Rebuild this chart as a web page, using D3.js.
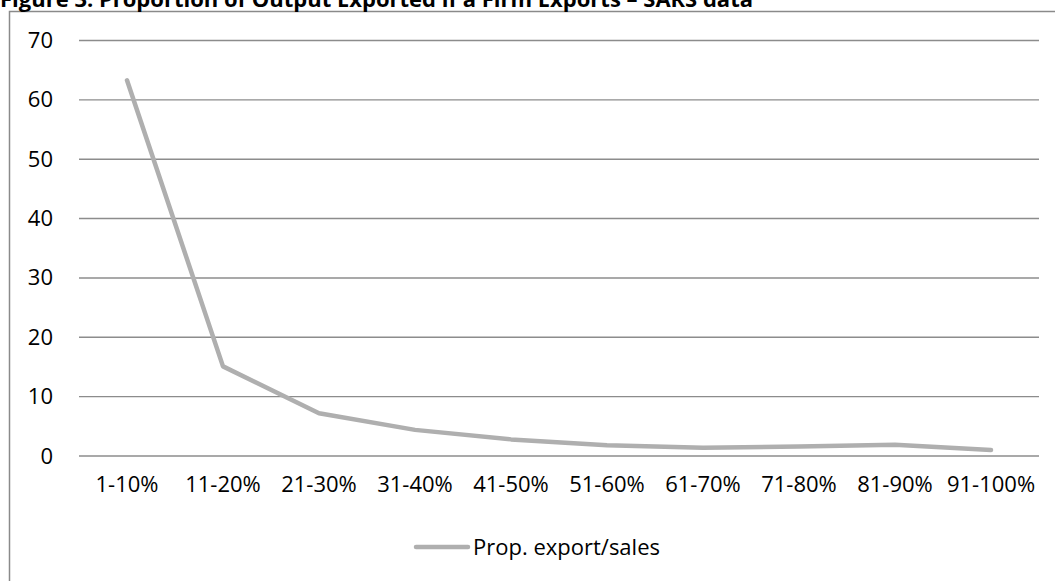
<!DOCTYPE html>
<html>
<head>
<meta charset="utf-8">
<script src="https://cdn.jsdelivr.net/npm/d3@7"></script>
<style>
  html, body { margin: 0; padding: 0; background: #fff; }
  svg { display: block; }
  text { font-family: "Open Sans", sans-serif; fill: #000; }
</style>
</head>
<body>
<svg id="chart" width="1055" height="581"></svg>
<script>
// Share of output exported, by export-intensity band
const categories = ["1-10%", "11-20%", "21-30%", "31-40%", "41-50%", "51-60%", "61-70%", "71-80%", "81-90%", "91-100%"];
const values = [63.3, 15.1, 7.2, 4.4, 2.8, 1.8, 1.4, 1.6, 1.9, 1.0];
const yTicks = [0, 10, 20, 30, 40, 50, 60, 70];
const seriesName = "Prop. export/sales";
const title = "Figure 3: Proportion of Output Exported if a Firm Exports \u2013 SARS data";

const svg = d3.select("#chart");

// chart area frame
svg.append("rect")
  .attr("x", 9.5).attr("y", 11.5)
  .attr("width", 1060).attr("height", 600)
  .attr("fill", "#fff")
  .attr("stroke", "#8a8a8a")
  .attr("stroke-width", 1.5);

// title, partly above the page edge
svg.append("text")
  .attr("x", 0).attr("y", 6.5)
  .attr("font-weight", "bold")
  .attr("font-size", 22)
  .text(title);

const x = d3.scaleBand().domain(categories).range([79, 1039]).padding(0);
const y = d3.scaleLinear().domain([0, 70]).range([456, 40.5]);

// horizontal gridlines
svg.append("g")
  .selectAll("line")
  .data(yTicks)
  .join("line")
  .attr("x1", 79).attr("x2", 1039)
  .attr("y1", d => y(d)).attr("y2", d => y(d))
  .attr("stroke", "#8c8c8c")
  .attr("stroke-width", 1.4);

// y axis labels
const yAxis = d3.axisLeft(y).tickValues(yTicks).tickSize(0).tickPadding(0);
const gy = svg.append("g").attr("transform", "translate(53,0)").call(yAxis);
gy.select(".domain").remove();
gy.selectAll("text")
  .attr("font-size", 22)
  .attr("font-family", "Open Sans, sans-serif")
  .attr("fill", "#000");

// x axis labels
const xAxis = d3.axisBottom(x).tickSize(0).tickPadding(0);
const gx = svg.append("g").attr("transform", "translate(0,476)").call(xAxis);
gx.select(".domain").remove();
gx.selectAll("text")
  .attr("font-size", 22)
  .attr("font-family", "Open Sans, sans-serif")
  .attr("fill", "#000");

// data line
const line = d3.line()
  .x((d, i) => x(categories[i]) + x.bandwidth() / 2)
  .y(d => y(d))
  .curve(d3.curveLinear);

svg.append("path")
  .datum(values)
  .attr("d", line)
  .attr("fill", "none")
  .attr("stroke", "#afafaf")
  .attr("stroke-width", 4.5)
  .attr("stroke-linecap", "round")
  .attr("stroke-linejoin", "round");

// legend
const legend = svg.append("g");
legend.append("line")
  .attr("x1", 416).attr("x2", 468)
  .attr("y1", 547).attr("y2", 547)
  .attr("stroke", "#afafaf")
  .attr("stroke-width", 4.5)
  .attr("stroke-linecap", "round");
legend.append("text")
  .attr("x", 473).attr("y", 555)
  .attr("font-size", 22)
  .text(seriesName);
</script>
</body>
</html>
